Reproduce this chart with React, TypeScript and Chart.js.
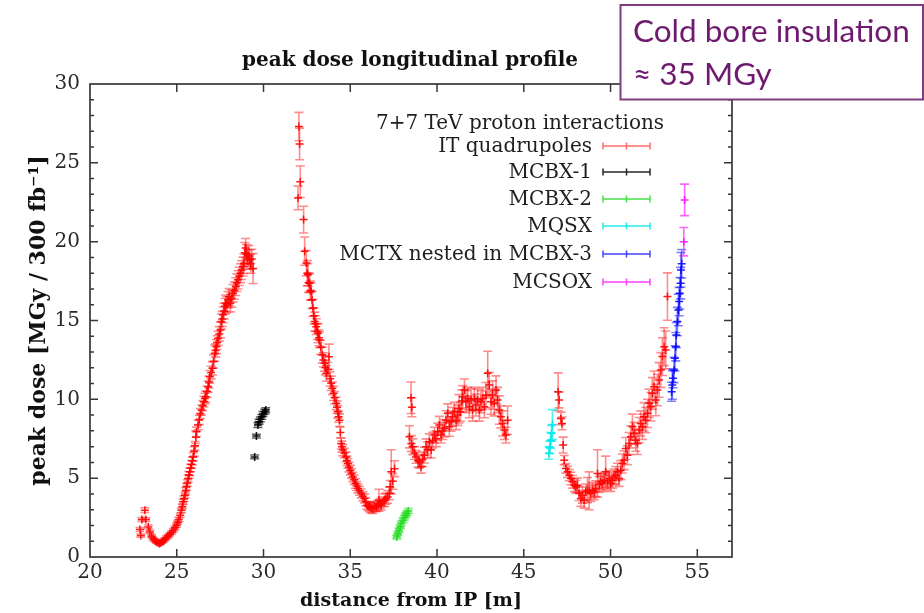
import React, { useEffect, useRef } from 'react';
import { Chart, registerables } from 'chart.js';

Chart.register(...registerables);

type Pt = [number, number, number]; // [distance from IP (m), peak dose (MGy), error (MGy)]

const xTicks = [20, 25, 30, 35, 40, 45, 50, 55];
const yTicks = [0, 5, 10, 15, 20, 25, 30];
const X_MIN = 20;
const X_MAX = 57;
const Y_MIN = 0;
const Y_MAX = 30;

// IT quadrupoles, first rise (Q1)
const itQuadA: Pt[] = [
  [22.88, 1.74, 0.12], [22.93, 1.36, 0.1], [22.99, 2.38, 0.12], [23.16, 2.97, 0.15], [23.22, 2.38, 0.12],
  [23.36, 1.91, 0.12], [23.45, 1.59, 0.1], [23.55, 1.32, 0.1], [23.64, 1.15, 0.1], [23.74, 1.06, 0.1],
  [23.83, 0.95, 0.08], [23.93, 0.89, 0.08], [24.0, 0.86, 0.08], [24.07, 0.89, 0.08], [24.15, 0.95, 0.08],
  [24.22, 1.02, 0.08], [24.31, 1.12, 0.1], [24.41, 1.23, 0.1], [24.5, 1.33, 0.1], [24.6, 1.44, 0.1],
  [24.7, 1.56, 0.1], [24.8, 1.7, 0.12], [24.9, 1.85, 0.12], [24.99, 2.01, 0.12], [25.05, 2.2, 0.12],
  [25.12, 2.38, 0.14], [25.2, 2.65, 0.14], [25.27, 2.97, 0.15], [25.32, 3.2, 0.16], [25.37, 3.5, 0.16],
  [25.42, 3.7, 0.18], [25.47, 3.92, 0.18], [25.52, 4.2, 0.2], [25.56, 4.45, 0.2], [25.61, 4.7, 0.2],
  [25.66, 4.98, 0.22], [25.7, 5.2, 0.22], [25.75, 5.4, 0.24], [25.8, 5.65, 0.24], [25.85, 5.87, 0.25],
  [25.9, 6.1, 0.25], [25.95, 6.35, 0.26], [26.0, 6.7, 0.3], [26.05, 7.05, 0.28], [26.1, 7.6, 0.4],
  [26.14, 7.94, 0.3], [26.23, 8.37, 0.3], [26.3, 8.7, 0.3], [26.36, 9.1, 0.32], [26.43, 9.32, 0.32],
  [26.5, 9.6, 0.32], [26.56, 9.85, 0.34], [26.62, 10.05, 0.34], [26.67, 10.17, 0.35], [26.74, 10.5, 0.35],
  [26.81, 10.8, 0.36], [26.86, 11.1, 0.38], [26.9, 11.43, 0.4], [26.98, 11.7, 0.4], [27.06, 11.97, 0.42],
  [27.12, 12.4, 0.42], [27.19, 12.92, 0.5], [27.24, 13.1, 0.42], [27.29, 13.34, 0.44], [27.33, 13.6, 0.44],
  [27.38, 13.87, 0.45], [27.45, 14.15, 0.46], [27.52, 14.4, 0.5], [27.57, 14.93, 0.48], [27.62, 15.1, 0.48],
  [27.67, 15.36, 0.5], [27.73, 15.6, 0.5], [27.78, 15.9, 0.5], [27.82, 16.1, 0.52], [27.88, 16.0, 0.52],
  [27.96, 16.31, 0.52], [28.02, 16.5, 0.52], [28.09, 16.1, 0.55], [28.16, 16.4, 0.55], [28.24, 16.73, 0.55],
  [28.32, 16.9, 0.55], [28.4, 17.15, 0.56], [28.46, 17.4, 0.56], [28.53, 17.58, 0.58], [28.6, 17.8, 0.58],
  [28.67, 18.0, 0.6], [28.74, 18.2, 0.6], [28.82, 18.42, 0.6], [28.87, 18.6, 0.62], [28.92, 19.3, 0.65],
  [28.97, 19.6, 0.6], [29.02, 19.2, 0.62], [29.08, 18.9, 0.6], [29.14, 19.1, 0.65], [29.2, 18.85, 0.62],
  [29.26, 18.6, 0.6], [29.32, 18.9, 0.62], [29.4, 18.3, 0.95],
];

// IT quadrupoles, second peak and descent (Q2a/Q2b)
const itQuadB: Pt[] = [
  [31.99, 22.77, 0.75], [32.04, 27.3, 0.9], [32.08, 26.2, 1.0], [32.12, 23.8, 1.0], [32.31, 21.4, 0.85],
  [32.37, 19.4, 0.9], [32.47, 18.64, 0.8], [32.52, 18.0, 0.8], [32.56, 17.9, 0.7], [32.6, 17.4, 0.6],
  [32.66, 17.37, 0.6], [32.7, 16.9, 0.6], [32.75, 16.84, 0.55], [32.8, 16.3, 0.55], [32.85, 15.8, 0.55],
  [32.9, 15.3, 0.5], [32.95, 14.93, 0.6], [33.0, 14.8, 0.5], [33.04, 14.61, 0.5], [33.1, 14.3, 0.5],
  [33.14, 14.19, 0.6], [33.2, 13.9, 0.5], [33.23, 13.77, 0.5], [33.3, 13.3, 0.45], [33.39, 12.81, 0.5],
  [33.45, 12.5, 0.45], [33.52, 12.29, 0.5], [33.57, 12.0, 0.45], [33.62, 11.65, 0.5], [33.7, 11.9, 0.45],
  [33.77, 12.7, 0.8], [33.84, 11.3, 0.45], [33.9, 11.02, 0.45], [33.97, 10.7, 0.4], [34.04, 10.38, 0.45],
  [34.1, 10.1, 0.4], [34.19, 9.75, 0.4], [34.24, 9.5, 0.4], [34.28, 9.21, 0.4], [34.33, 8.9, 0.35],
  [34.38, 8.68, 0.4], [34.43, 7.9, 0.35], [34.48, 7.2, 0.35], [34.52, 7.0, 0.35], [34.57, 6.78, 0.35],
  [34.66, 6.6, 0.3], [34.76, 6.35, 0.3], [34.81, 6.1, 0.3], [34.86, 5.93, 0.3], [34.93, 5.7, 0.3],
  [35.0, 5.51, 0.3], [35.07, 5.3, 0.3], [35.15, 5.08, 0.3], [35.22, 4.9, 0.3], [35.3, 4.66, 0.3],
  [35.37, 4.5, 0.28], [35.44, 4.35, 0.28], [35.53, 4.2, 0.28], [35.63, 4.03, 0.28], [35.72, 3.85, 0.28],
  [35.82, 3.71, 0.28], [35.89, 3.5, 0.25], [35.96, 3.28, 0.25], [36.03, 3.2, 0.25], [36.11, 3.18, 0.3],
  [36.2, 3.1, 0.3], [36.3, 3.07, 0.3], [36.4, 3.2, 0.3], [36.5, 3.18, 0.3], [36.58, 3.3, 0.3],
  [36.65, 3.6, 0.7], [36.72, 3.4, 0.3], [36.78, 3.28, 0.3], [36.87, 3.5, 0.3], [36.97, 3.6, 0.4],
  [37.06, 3.7, 0.35], [37.16, 3.81, 0.4], [37.26, 4.03, 0.4], [37.3, 4.45, 0.4], [37.36, 5.4, 1.4],
  [37.45, 4.8, 0.5], [37.55, 5.6, 0.5],
];

// IT quadrupoles, third section (Q2b / Q3 region)
const itQuadC: Pt[] = [
  [38.41, 7.62, 0.7], [38.5, 10.1, 1.0], [38.55, 9.5, 0.6], [38.52, 7.2, 0.5], [38.6, 6.99, 0.5],
  [38.7, 6.6, 0.4], [38.79, 6.35, 0.4], [38.9, 6.1, 0.4], [38.99, 6.03, 0.4], [39.08, 5.72, 0.4],
  [39.17, 6.2, 0.45], [39.27, 6.46, 0.5], [39.37, 6.99, 0.5], [39.46, 6.8, 0.5], [39.56, 7.31, 0.5],
  [39.66, 6.78, 0.5], [39.75, 7.41, 0.5], [39.85, 7.73, 0.5], [39.94, 7.5, 0.5], [40.04, 7.94, 0.55],
  [40.14, 8.37, 0.55], [40.23, 7.73, 0.5], [40.33, 8.0, 0.55], [40.43, 8.16, 0.55], [40.52, 8.68, 0.6],
  [40.62, 9.11, 0.6], [40.71, 8.26, 0.6], [40.81, 8.58, 0.6], [40.9, 8.89, 0.6], [41.0, 9.21, 0.6],
  [41.1, 8.68, 0.6], [41.19, 9.0, 0.65], [41.27, 9.4, 0.9], [41.35, 9.21, 0.6], [41.43, 9.9, 0.7],
  [41.48, 10.17, 0.7], [41.58, 10.59, 0.7], [41.67, 9.85, 0.7], [41.77, 10.06, 0.7], [41.86, 9.53, 0.7],
  [41.96, 9.96, 0.7], [42.05, 9.32, 0.7], [42.15, 10.06, 0.7], [42.24, 9.64, 0.7], [42.34, 9.96, 0.7],
  [42.44, 9.32, 0.7], [42.53, 9.85, 0.7], [42.63, 10.06, 0.7], [42.73, 9.53, 0.7], [42.82, 10.27, 0.8],
  [42.92, 11.65, 1.4], [43.01, 10.91, 0.8], [43.11, 9.85, 0.8], [43.2, 10.27, 0.9], [43.3, 9.75, 0.8],
  [43.4, 10.59, 0.9], [43.49, 9.96, 0.8], [43.59, 9.32, 0.9], [43.68, 8.89, 0.7], [43.78, 8.47, 0.8],
  [43.88, 8.05, 0.6], [43.97, 7.73, 0.5], [44.07, 8.68, 0.9],
];

// IT quadrupoles, last section (Q3)
const itQuadD: Pt[] = [
  [46.98, 10.48, 1.2], [47.04, 9.96, 0.5], [47.14, 8.79, 0.4], [47.2, 8.47, 0.4], [47.27, 7.1, 0.5],
  [47.33, 6.14, 0.3], [47.43, 5.62, 0.3], [47.52, 5.4, 0.35], [47.62, 5.19, 0.35], [47.71, 4.98, 0.4],
  [47.81, 4.77, 0.4], [47.91, 4.55, 0.4], [48.0, 4.45, 0.4], [48.09, 4.55, 0.45], [48.19, 4.03, 0.45],
  [48.29, 3.71, 0.5], [48.38, 3.92, 0.5], [48.48, 3.6, 0.5], [48.57, 4.13, 0.5], [48.67, 4.24, 0.8],
  [48.77, 4.2, 1.2], [48.86, 4.03, 0.5], [48.96, 4.24, 0.5], [49.06, 4.13, 0.5], [49.15, 4.34, 0.5],
  [49.25, 5.3, 1.5], [49.35, 4.6, 0.5], [49.44, 4.77, 0.5], [49.53, 4.66, 0.5], [49.63, 4.87, 0.5],
  [49.72, 5.4, 1.0], [49.82, 4.77, 0.5], [49.92, 4.98, 0.5], [50.01, 4.66, 0.5], [50.11, 4.87, 0.5],
  [50.2, 5.08, 0.5], [50.3, 5.19, 0.55], [50.4, 5.4, 0.55], [50.49, 4.98, 0.5], [50.59, 5.51, 0.6],
  [50.68, 5.93, 0.6], [50.78, 6.14, 0.6], [50.88, 6.88, 0.7], [50.97, 6.46, 0.6], [51.07, 7.2, 0.7],
  [51.17, 7.62, 0.7], [51.26, 8.26, 0.8], [51.36, 7.84, 0.7], [51.45, 7.41, 0.7], [51.55, 7.2, 0.7],
  [51.65, 8.05, 0.8], [51.74, 8.47, 0.8], [51.84, 8.26, 0.8], [51.93, 8.89, 0.9], [52.03, 8.68, 0.8],
  [52.13, 9.11, 0.9], [52.22, 9.75, 0.9], [52.32, 9.53, 0.9], [52.41, 10.38, 1.0], [52.51, 10.8, 1.0],
  [52.61, 9.96, 1.0], [52.7, 10.59, 1.0], [52.8, 11.23, 1.1], [52.9, 11.86, 1.1], [52.99, 12.71, 1.2],
  [53.09, 13.34, 1.2], [53.18, 13.13, 1.2], [53.28, 16.52, 1.5],
];

const mcbx1: Pt[] = [
  [29.49, 6.35, 0.12], [29.59, 7.67, 0.12], [29.68, 8.37, 0.15], [29.74, 8.58, 0.15], [29.82, 8.73, 0.15],
  [29.9, 8.89, 0.15], [29.97, 9.07, 0.15], [30.07, 9.21, 0.15], [30.13, 9.32, 0.15],
];

const mcbx2: Pt[] = [
  [37.68, 1.27, 0.12], [37.74, 1.48, 0.12], [37.8, 1.7, 0.12], [37.88, 1.91, 0.12], [37.93, 2.12, 0.15],
  [38.03, 2.33, 0.15], [38.12, 2.5, 0.15], [38.18, 2.65, 0.15], [38.26, 2.76, 0.15], [38.34, 2.92, 0.15],
];

const mqsx: Pt[] = [
  [46.45, 6.6, 0.4], [46.5, 6.95, 0.4], [46.55, 7.4, 0.5], [46.6, 7.85, 0.5], [46.65, 8.4, 0.95],
];

const mctx: Pt[] = [
  [53.52, 10.48, 0.6], [53.56, 10.91, 0.9], [53.6, 11.33, 0.6], [53.66, 11.86, 0.8], [53.71, 12.6, 0.8],
  [53.76, 13.34, 0.9], [53.79, 14.08, 0.8], [53.85, 14.93, 0.9], [53.91, 15.67, 1.0], [53.95, 16.2, 0.9],
  [53.99, 16.73, 1.0], [54.04, 17.37, 1.0], [54.06, 18.21, 1.1], [54.1, 18.6, 0.9],
];

const mcsox: Pt[] = [
  [54.22, 20.0, 0.9], [54.27, 22.65, 1.0],
];

const seriesLabels = ['IT quadrupoles', 'MCBX-1', 'MCBX-2', 'MQSX', 'MCTX nested in MCBX-3', 'MCSOX'];
const legendTitle = '7+7 TeV proton interactions';
const chartTitle = 'peak dose longitudinal profile';
const xTitle = 'distance from IP [m]';
const yTitle = 'peak dose [MGy / 300 fb\u207B\u00B9]';
const noteLines = ['Cold bore insulation', '\u2248 35 MGy'];

const seriesData: Pt[][] = [
  [...itQuadA, ...itQuadB, ...itQuadC, ...itQuadD],
  mcbx1,
  mcbx2,
  mqsx,
  mctx,
  mcsox,
];

const markColors = ['rgba(255,0,0,0.9)', 'rgba(0,0,0,0.9)', 'rgba(40,220,40,0.95)', 'rgba(0,235,235,0.95)', 'rgba(0,0,255,0.85)', 'rgba(255,0,255,0.85)'];
const barColors = ['rgba(255,0,0,0.45)', 'rgba(0,0,0,0.6)', 'rgba(40,220,40,0.6)', 'rgba(0,235,235,0.7)', 'rgba(0,0,255,0.5)', 'rgba(255,0,255,0.6)'];
const keyColors = ['rgba(255,60,60,0.75)', 'rgba(0,0,0,0.85)', 'rgba(40,220,40,0.85)', 'rgba(0,230,230,0.85)', 'rgba(20,20,255,0.8)', 'rgba(255,0,255,0.75)'];

const SERIF = '"DejaVu Serif", "Liberation Serif", serif';

const errorBarPlugin = {
  id: 'errorBars',
  beforeDatasetsDraw(chart: any) {
    const { ctx, chartArea, scales } = chart;
    const xs = scales.x;
    const ys = scales.y;
    ctx.save();
    ctx.beginPath();
    ctx.rect(chartArea.left, chartArea.top, chartArea.right - chartArea.left, chartArea.bottom - chartArea.top);
    ctx.clip();
    chart.data.datasets.forEach((ds: any) => {
      ctx.strokeStyle = ds.errorColor;
      ctx.lineWidth = 1.6;
      const cap = 4.5;
      ds.data.forEach((d: any, i: number) => {
        const e = ds.errors[i];
        const px = xs.getPixelForValue(d.x);
        const y1 = ys.getPixelForValue(d.y + e);
        const y2 = ys.getPixelForValue(d.y - e);
        ctx.beginPath();
        ctx.moveTo(px, y1);
        ctx.lineTo(px, y2);
        ctx.moveTo(px - cap, y1);
        ctx.lineTo(px + cap, y1);
        ctx.moveTo(px - cap, y2);
        ctx.lineTo(px + cap, y2);
        ctx.stroke();
      });
    });
    ctx.restore();
  },
};

const framePlugin = {
  id: 'frameTicks',
  afterDatasetsDraw(chart: any) {
    const { ctx, chartArea, scales } = chart;
    const { left, right, top, bottom } = chartArea;
    const xs = scales.x;
    const ys = scales.y;
    ctx.save();
    ctx.strokeStyle = '#383838';
    ctx.lineWidth = 1.7;
    ctx.strokeRect(left, top, right - left, bottom - top);
    ctx.lineWidth = 1.5;
    ctx.beginPath();
    xTicks.forEach((v) => {
      const px = xs.getPixelForValue(v);
      if (px <= left + 1 || px >= right - 1) return;
      ctx.moveTo(px, bottom);
      ctx.lineTo(px, bottom - 8);
      ctx.moveTo(px, top);
      ctx.lineTo(px, top + 8);
    });
    for (let v = Y_MIN + 1; v < Y_MAX; v += 1) {
      const py = ys.getPixelForValue(v);
      const len = yTicks.includes(v) ? 8 : 4;
      ctx.moveTo(left, py);
      ctx.lineTo(left + len, py);
      ctx.moveTo(right, py);
      ctx.lineTo(right - len, py);
    }
    ctx.stroke();
    ctx.restore();
  },
};

const decorPlugin = {
  id: 'decor',
  afterDraw(chart: any) {
    const { ctx } = chart;
    ctx.save();
    // title
    ctx.fillStyle = '#111';
    ctx.font = `bold 20px ${SERIF}`;
    ctx.textAlign = 'center';
    ctx.textBaseline = 'middle';
    ctx.fillText(chartTitle, 410, 61);

    // key
    ctx.font = `20px ${SERIF}`;
    ctx.fillStyle = '#1e1e1e';
    ctx.fillText(legendTitle, 520, 124);
    ctx.textAlign = 'right';
    const rowY = [146, 172, 199, 226, 254, 282];
    seriesLabels.forEach((lab, i) => {
      const yy = rowY[i];
      ctx.fillStyle = '#1e1e1e';
      ctx.fillText(lab, 592, yy + 1);
      ctx.strokeStyle = keyColors[i];
      ctx.lineWidth = 1.5;
      ctx.beginPath();
      ctx.moveTo(603, yy);
      ctx.lineTo(650, yy);
      ctx.moveTo(603, yy - 3.5);
      ctx.lineTo(603, yy + 3.5);
      ctx.moveTo(650, yy - 3.5);
      ctx.lineTo(650, yy + 3.5);
      ctx.moveTo(626.5, yy - 3.5);
      ctx.lineTo(626.5, yy + 3.5);
      ctx.stroke();
    });

    // note box
    ctx.fillStyle = '#ffffff';
    ctx.fillRect(620.5, 5, 302.5, 94.5);
    ctx.strokeStyle = '#7f3d80';
    ctx.lineWidth = 2;
    ctx.strokeRect(620.5, 5, 302.5, 94.5);
    ctx.fillStyle = '#6e1a6e';
    ctx.textAlign = 'left';
    ctx.font = '31.5px Lato, "Open Sans", sans-serif';
    ctx.fillText(noteLines[0], 633, 32);
    ctx.fillText(noteLines[1], 633, 75);
    ctx.restore();
  },
};

export default function App() {
  const ref = useRef<HTMLCanvasElement | null>(null);

  useEffect(() => {
    if (!ref.current) return;
    const datasets = seriesData.map((pts, i) => ({
      label: seriesLabels[i],
      data: pts.map((p) => ({ x: p[0], y: p[1] })),
      errors: pts.map((p) => p[2]),
      errorColor: barColors[i],
      showLine: false,
      pointStyle: 'cross',
      pointRadius: 4,
      pointBorderWidth: 1.5,
      pointBorderColor: markColors[i],
      pointBackgroundColor: markColors[i],
      borderColor: markColors[i],
    }));

    const chart = new Chart(ref.current, {
      type: 'scatter',
      data: { datasets: datasets as any },
      options: {
        responsive: false,
        animation: false,
        devicePixelRatio: 1,
        events: [],
        layout: { padding: { left: 0, right: 192, top: 84, bottom: 0 } },
        plugins: {
          legend: { display: false },
          title: { display: false },
          tooltip: { enabled: false },
        },
        scales: {
          x: {
            type: 'linear',
            min: X_MIN,
            max: X_MAX,
            afterBuildTicks: (s: any) => {
              s.ticks = xTicks.map((v) => ({ value: v }));
            },
            afterFit: (s: any) => {
              s.height = 56;
            },
            grid: { display: false, drawTicks: false },
            border: { display: false },
            ticks: {
              font: { family: SERIF, size: 20 },
              color: '#2a2a2a',
              padding: 4,
              maxRotation: 0,
              autoSkip: false,
            },
            title: {
              display: true,
              text: xTitle,
              color: '#111',
              font: { family: SERIF, size: 19, weight: 'bold' },
              padding: { top: 0, bottom: 1 },
            },
          },
          y: {
            type: 'linear',
            min: Y_MIN,
            max: Y_MAX,
            afterBuildTicks: (s: any) => {
              s.ticks = yTicks.map((v) => ({ value: v }));
            },
            afterFit: (s: any) => {
              s.width = 90;
            },
            grid: { display: false, drawTicks: false },
            border: { display: false },
            ticks: {
              font: { family: SERIF, size: 20 },
              color: '#2a2a2a',
              padding: 10,
            },
            title: {
              display: true,
              text: yTitle,
              color: '#111',
              font: { family: SERIF, size: 22, weight: 'bold' },
              padding: { top: 26, bottom: 0 },
            },
          },
        },
      } as any,
      plugins: [errorBarPlugin, framePlugin, decorPlugin],
    });
    return () => chart.destroy();
  }, []);

  return (
    <canvas
      ref={ref}
      width={924}
      height={613}
      style={{ position: 'absolute', left: 0, top: 0, width: 924, height: 613 }}
    />
  );
}
